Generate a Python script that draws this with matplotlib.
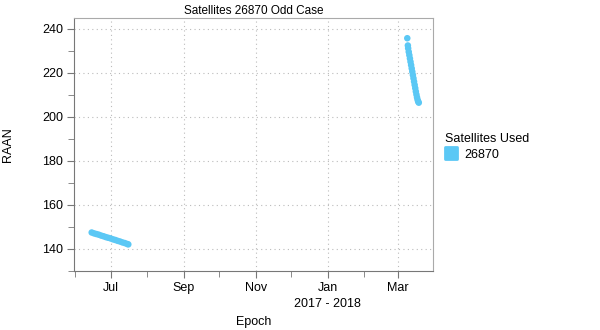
import matplotlib
matplotlib.use("Agg")
import matplotlib.pyplot as plt
import matplotlib.dates as mdates
import pandas as pd
from matplotlib.lines import Line2D
from matplotlib.markers import MarkerStyle

plt.rcParams['font.family'] = ['Liberation Sans', 'DejaVu Sans']

# Segment 1 (June-July 2017)
dates_a = ["2017-06-15", "2017-06-17", "2017-06-19", "2017-06-21", "2017-06-23",
           "2017-06-25", "2017-06-27", "2017-06-29", "2017-07-01", "2017-07-03",
           "2017-07-05", "2017-07-07", "2017-07-09", "2017-07-11", "2017-07-13",
           "2017-07-15", "2017-07-16"]
raan_a = [147.5, 147.1, 146.8, 146.5, 146.1, 145.8, 145.4, 145.1, 144.8, 144.4,
          144.1, 143.7, 143.4, 143.0, 142.7, 142.3, 142.1]

# Segment 2 (March 2018)
dates_b = ["2018-03-09 06:00", "2018-03-09 18:00", "2018-03-10 00:00", "2018-03-10 12:00",
           "2018-03-11 00:00", "2018-03-11 12:00", "2018-03-12 00:00", "2018-03-12 12:00",
           "2018-03-13 00:00", "2018-03-13 12:00", "2018-03-14 00:00", "2018-03-14 12:00",
           "2018-03-15 00:00", "2018-03-15 12:00", "2018-03-16 00:00", "2018-03-16 12:00",
           "2018-03-17 00:00", "2018-03-17 12:00", "2018-03-18 00:00", "2018-03-18 12:00",
           "2018-03-19 00:00"]
raan_b = [235.8, 232.5, 231.2, 229.6, 228.1, 226.6, 225.1, 223.6, 222.1, 220.6,
          219.1, 217.6, 216.1, 214.6, 213.1, 211.6, 210.2, 208.9, 207.8, 207.0, 206.5]

sat_label = "26870"
color = "#5BC8F5"

fig = plt.figure(figsize=(6, 3.3), dpi=100)
ax = fig.add_axes([0.1233, 0.1788, 0.5983, 0.7667])

xa = pd.to_datetime(dates_a)
xb = pd.to_datetime(dates_b)
ax.scatter(xa, raan_a, s=22, color=color, edgecolors='none', zorder=3)
ax.scatter(xb, raan_b, s=22, color=color, edgecolors='none', zorder=3)

ax.set_xlim(pd.Timestamp("2017-05-31"), pd.Timestamp("2018-03-31"))
ax.set_ylim(130, 245)

ax.xaxis.set_major_locator(mdates.MonthLocator(bymonth=[1, 3, 5, 7, 9, 11]))
ax.xaxis.set_major_formatter(mdates.DateFormatter('%b'))
ax.xaxis.set_minor_locator(mdates.MonthLocator(bymonth=[2, 4, 6, 8, 10, 12]))
ax.set_yticks([140, 160, 180, 200, 220, 240])
ax.set_yticks([130, 150, 170, 190, 210, 230], minor=True)

ax.grid(True, which='major', linestyle=(0, (1, 3)), color='#bbbbbb', linewidth=0.8)
ax.tick_params(axis='both', which='major', length=5, color='#777777', labelsize=9,
               direction='out', pad=3)
ax.tick_params(axis='both', which='minor', length=4, color='#777777', direction='out')

for s in ['top', 'right']:
    ax.spines[s].set_color('#aaaaaa')
for s in ['left', 'bottom']:
    ax.spines[s].set_color('#777777')

ax.set_title("Satellites 26870 Odd Case", fontsize=8.5, pad=3)
ax.set_ylabel("RAAN", fontsize=9, labelpad=20)
ax.set_xlabel("Epoch", fontsize=9, labelpad=16)
ax.text(pd.Timestamp("2018-01-01"), -0.105, "2017 - 2018", transform=ax.get_xaxis_transform(),
        ha='center', va='top', fontsize=9)

handle = Line2D([], [], linestyle='none', marker=MarkerStyle('s', joinstyle='round'),
                markersize=9, markerfacecolor=color, markeredgecolor=color,
                markeredgewidth=2, label=sat_label)
leg = ax.legend(handles=[handle], title="Satellites Used", loc='upper left',
                bbox_to_anchor=(1.02, 0.565), frameon=False, fontsize=9, title_fontsize=9,
                handlelength=1.0, handletextpad=0.5, borderaxespad=0, labelspacing=0.3)
leg._legend_box.align = "left"

fig.savefig("out.png", dpi=100)
